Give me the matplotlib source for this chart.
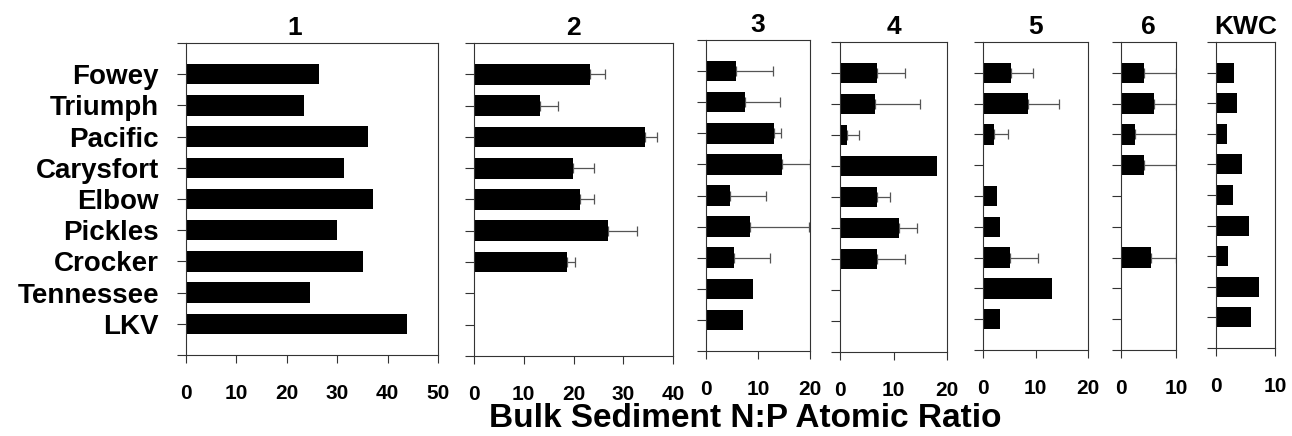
import numpy as np
import matplotlib
matplotlib.use("Agg")
import matplotlib.pyplot as plt

plt.rcParams["font.family"] = ["Liberation Sans", "DejaVu Sans"]
plt.rcParams["font.weight"] = "bold"

sites = ["Fowey", "Triumph", "Pacific", "Carysfort", "Elbow",
         "Pickles", "Crocker", "Tennessee", "LKV"]

panel_titles = ["1", "2", "3", "4", "5", "6", "KWC"]

# N:P ratio per site (None = no data)
np1 = [26.4, 23.4, 36.1, 31.4, 37.1, 29.9, 35.2, 24.7, 43.9]
np2 = [23.3, 13.2, 34.3, 19.9, 21.4, 26.9, 18.6, None, None]
np3 = [5.7, 7.5, 13.1, 14.7, 4.6, 8.5, 5.3, 9.1, 7.2]
np4 = [6.9, 6.6, 1.4, 18.1, 6.9, 11.1, 6.9, None, None]
np5 = [5.3, 8.6, 2.1, None, 2.7, 3.2, 5.1, 13.1, 3.2]
np6 = [4.2, 6.0, 2.5, 4.1, None, None, 5.5, None, None]
np_kwc = [3.1, 3.5, 1.9, 4.4, 2.8, 5.6, 2.0, 7.3, 5.9]

# upper error (standard error), None = none drawn
err1 = [None] * 9
err2 = [3.1, 3.7, 2.4, 4.2, 2.7, 5.9, 1.8, None, None]
err3 = [7.2, 6.7, 1.3, 5.3, 6.9, 11.3, 7.1, None, None]
err4 = [5.3, 8.4, 2.2, None, 2.5, 3.2, 5.3, None, None]
err5 = [4.2, 5.9, 2.7, None, None, None, 5.4, None, None]
err6 = [5.8, 4.0, 7.5, 5.9, None, None, 4.5, None, None]
err_kwc = [None] * 9

values = [np1, np2, np3, np4, np5, np6, np_kwc]
errors = [err1, err2, err3, err4, err5, err6, err_kwc]
xmax = [50, 40, 20, 20, 20, 10, 10]
xticks = [[0, 10, 20, 30, 40, 50], [0, 10, 20, 30, 40], [0, 10, 20],
          [0, 10, 20], [0, 10, 20], [0, 10], [0, 10]]

# panel boxes in pixels: left, right, top, bottom
boxes = [(186, 438, 43, 355), (474, 673, 43, 356), (706, 810, 40, 351),
         (840, 947, 42, 352), (983, 1088, 42, 350), (1121, 1176, 42, 350),
         (1216, 1275, 42, 348)]

W, H = 1292, 436


def main():
    fig = plt.figure(figsize=(W / 100, H / 100), dpi=100)
    pos = np.arange(1, len(sites) + 1)

    for i in range(len(values)):
        l, r, t, b = boxes[i]
        ax = fig.add_axes([l / W, 1 - b / H, (r - l) / W, (b - t) / H])

        idx = [k for k, v in enumerate(values[i]) if v is not None]
        vals = [values[i][k] for k in idx]
        ax.barh(pos[idx], vals, height=0.66, color="black", zorder=2)

        eidx = [k for k in idx if errors[i][k] is not None]
        if eidx:
            ev = [values[i][k] for k in eidx]
            ee = [errors[i][k] for k in eidx]
            ax.errorbar(ev, pos[eidx], xerr=[np.zeros(len(ee)), ee],
                        fmt="none", ecolor="#555555", elinewidth=0.9,
                        capsize=3.5, capthick=0.9, zorder=1, clip_on=True)

        ax.set_xlim(0, xmax[i])
        ax.set_ylim(10, 0)
        ax.set_yticks(np.arange(0, 11))
        if i == 0:
            ax.set_yticklabels([""] + sites + [""], fontsize=20, fontweight="bold")
        else:
            ax.set_yticklabels([])
        ax.set_xticks(xticks[i])
        ax.set_xticklabels([str(x) for x in xticks[i]], fontsize=15, fontweight="bold")
        ax.tick_params(axis="y", direction="out", length=6.5, width=0.8,
                       color="#333333", pad=13)
        ax.tick_params(axis="x", direction="out", length=6, width=0.8,
                       color="#333333", pad=15)
        for s in ax.spines.values():
            s.set_linewidth(0.8)
            s.set_color("#333333")

        tx = 0.43 if i == 0 else 0.5
        ax.set_title(panel_titles[i], fontsize=19, fontweight="bold", pad=6, x=tx)

    fig.text(745 / W, 1 - 418 / H, "Bulk Sediment N:P Atomic Ratio",
             ha="center", va="center", fontsize=24, fontweight="bold")

    fig.savefig("out.png", dpi=100)


if __name__ == "__main__":
    main()
